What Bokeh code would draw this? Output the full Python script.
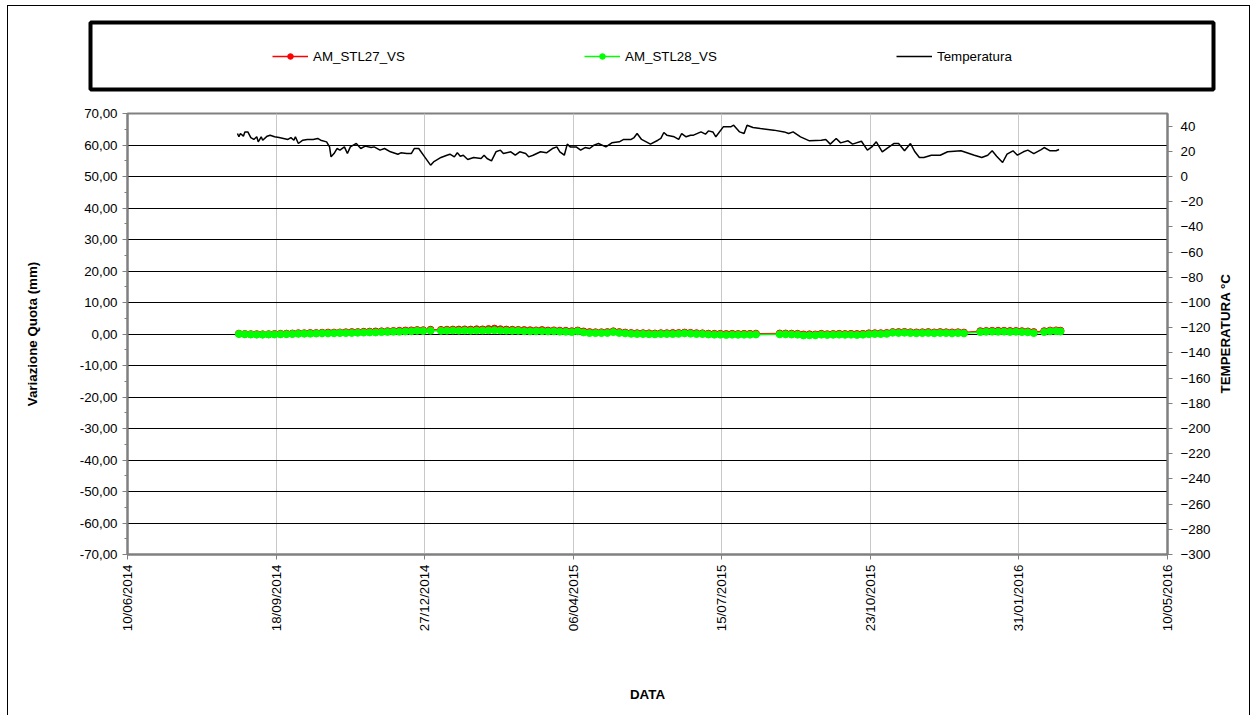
import math
import pandas as pd
from bokeh.plotting import figure
from bokeh.layouts import column, row
from bokeh.models import (Range1d, LinearAxis, FixedTicker, DatetimeTickFormatter,
                          CustomJSTickFormatter, ColumnDataSource, Legend, LegendItem, Label)
from bokeh.embed import file_html
from bokeh.resources import INLINE

# ---------------- data ----------------
temp_dates = [
    "2014-08-23", "2014-08-24", "2014-08-25", "2014-08-27", "2014-08-28", "2014-08-30",
    "2014-09-01", "2014-09-03", "2014-09-05", "2014-09-06", "2014-09-08", "2014-09-09",
    "2014-09-12", "2014-09-14", "2014-09-17", "2014-09-20", "2014-09-23", "2014-09-26",
    "2014-09-28", "2014-09-30", "2014-10-01", "2014-10-03", "2014-10-06", "2014-10-09",
    "2014-10-13", "2014-10-16", "2014-10-18", "2014-10-22", "2014-10-24", "2014-10-25",
    "2014-10-27", "2014-10-29", "2014-10-31", "2014-11-03", "2014-11-05", "2014-11-07",
    "2014-11-09", "2014-11-11", "2014-11-14", "2014-11-17", "2014-11-21", "2014-11-23",
    "2014-11-27", "2014-11-30", "2014-12-04", "2014-12-09", "2014-12-11", "2014-12-15",
    "2014-12-18", "2014-12-20", "2014-12-23", "2014-12-27", "2014-12-31", "2015-01-02",
    "2015-01-07", "2015-01-11", "2015-01-13", "2015-01-16", "2015-01-18", "2015-01-20",
    "2015-01-22", "2015-01-25", "2015-01-29", "2015-02-03", "2015-02-05", "2015-02-07",
    "2015-02-10", "2015-02-13", "2015-02-16", "2015-02-18", "2015-02-23", "2015-02-26",
    "2015-03-01", "2015-03-05", "2015-03-07", "2015-03-10", "2015-03-15", "2015-03-19",
    "2015-03-23", "2015-03-26", "2015-03-28", "2015-03-31", "2015-04-02", "2015-04-04",
    "2015-04-08", "2015-04-11", "2015-04-14", "2015-04-17", "2015-04-20", "2015-04-23",
    "2015-04-28", "2015-05-02", "2015-05-07", "2015-05-10", "2015-05-15", "2015-05-17",
    "2015-05-19", "2015-05-22", "2015-05-28", "2015-06-02", "2015-06-04", "2015-06-06",
    "2015-06-08", "2015-06-13", "2015-06-16", "2015-06-18", "2015-06-21", "2015-06-24",
    "2015-06-26", "2015-07-01", "2015-07-04", "2015-07-06", "2015-07-09", "2015-07-11",
    "2015-07-16", "2015-07-21", "2015-07-23", "2015-07-27", "2015-07-30", "2015-08-01",
    "2015-08-05", "2015-08-10", "2015-08-19", "2015-08-26", "2015-08-29", "2015-09-01",
    "2015-09-06", "2015-09-12", "2015-09-20", "2015-09-23", "2015-09-26", "2015-09-30",
    "2015-10-03", "2015-10-08", "2015-10-11", "2015-10-17", "2015-10-21", "2015-10-24",
    "2015-10-27", "2015-10-31", "2015-11-03", "2015-11-08", "2015-11-11", "2015-11-15",
    "2015-11-19", "2015-11-22", "2015-11-25", "2015-11-28", "2015-12-03", "2015-12-09",
    "2015-12-14", "2015-12-23", "2016-01-01", "2016-01-06", "2016-01-10", "2016-01-13",
    "2016-01-16", "2016-01-20", "2016-01-23", "2016-01-27", "2016-01-30", "2016-02-03",
    "2016-02-06", "2016-02-10", "2016-02-15", "2016-02-17", "2016-02-21", "2016-02-25",
    "2016-02-27",
]
temperatura = [
    34.1, 31.5, 34.1, 32.0, 35.4, 35.4,
    30.9, 29.4, 31.5, 27.5, 31.5, 28.8,
    32.0, 32.8, 31.5, 30.9, 30.2, 29.4,
    30.9, 28.8, 31.5, 26.2, 28.8, 29.4,
    29.4, 30.2, 28.8, 27.5, 23.5, 15.6,
    18.2, 22.2, 20.9, 23.5, 18.2, 23.5,
    24.9, 26.2, 22.2, 24.1, 23.0, 23.5,
    20.9, 22.2, 19.6, 17.7, 18.8, 18.2,
    18.2, 22.2, 22.2, 15.6, 9.0, 11.6,
    15.1, 16.9, 17.7, 15.6, 18.8, 16.1,
    16.9, 13.5, 15.1, 14.3, 16.9, 14.3,
    12.4, 19.6, 20.9, 18.2, 19.6, 16.9,
    19.6, 18.2, 15.6, 16.9, 19.6, 18.8,
    22.2, 23.5, 19.6, 16.9, 25.7, 23.5,
    23.5, 20.9, 23.0, 22.2, 24.9, 26.2,
    23.5, 26.7, 27.5, 29.4, 29.4, 30.9,
    34.1, 29.4, 25.7, 28.8, 30.2, 34.9,
    32.8, 31.5, 29.4, 34.1, 31.5, 32.8,
    32.8, 35.4, 33.6, 36.2, 35.4, 31.5,
    39.4, 39.4, 40.7, 35.4, 34.1, 40.7,
    38.9, 38.1, 36.8, 35.4, 34.1, 35.4,
    31.5, 28.3, 28.8, 29.4, 25.7, 30.2,
    26.7, 28.3, 25.7, 28.0, 20.9, 23.5,
    27.5, 19.6, 22.2, 26.2, 26.2, 20.4,
    26.2, 19.6, 15.1, 15.1, 16.9, 16.9,
    19.6, 20.4, 16.9, 15.1, 16.9, 20.4,
    16.1, 11.1, 17.7, 20.4, 16.9, 19.6,
    20.9, 18.2, 21.4, 23.0, 20.4, 20.4,
    21.4,
]

survey_dates = [
    "2014-08-24", "2014-08-28", "2014-09-01", "2014-09-05", "2014-09-09", "2014-09-13",
    "2014-09-17", "2014-09-21", "2014-09-25", "2014-09-29", "2014-10-03", "2014-10-07",
    "2014-10-11", "2014-10-15", "2014-10-19", "2014-10-23", "2014-10-27", "2014-10-31",
    "2014-11-04", "2014-11-08", "2014-11-12", "2014-11-16", "2014-11-20", "2014-11-24",
    "2014-11-28", "2014-12-02", "2014-12-06", "2014-12-10", "2014-12-14", "2014-12-18",
    "2014-12-22", "2014-12-26", "2014-12-31", "2015-01-07", "2015-01-11", "2015-01-15",
    "2015-01-19", "2015-01-23", "2015-01-27", "2015-01-31", "2015-02-04", "2015-02-08",
    "2015-02-12", "2015-02-16", "2015-02-20", "2015-02-24", "2015-02-28", "2015-03-04",
    "2015-03-08", "2015-03-12", "2015-03-16", "2015-03-20", "2015-03-24", "2015-03-28",
    "2015-04-01", "2015-04-05", "2015-04-09", "2015-04-13", "2015-04-17", "2015-04-21",
    "2015-04-25", "2015-04-29", "2015-05-03", "2015-05-07", "2015-05-11", "2015-05-15",
    "2015-05-19", "2015-05-23", "2015-05-27", "2015-05-31", "2015-06-04", "2015-06-08",
    "2015-06-12", "2015-06-16", "2015-06-20", "2015-06-24", "2015-06-28", "2015-07-02",
    "2015-07-06", "2015-07-10", "2015-07-14", "2015-07-18", "2015-07-22", "2015-07-26",
    "2015-07-30", "2015-08-03", "2015-08-07", "2015-08-23", "2015-08-27", "2015-08-31",
    "2015-09-04", "2015-09-08", "2015-09-12", "2015-09-16", "2015-09-20", "2015-09-24",
    "2015-09-28", "2015-10-02", "2015-10-06", "2015-10-10", "2015-10-14", "2015-10-18",
    "2015-10-22", "2015-10-26", "2015-10-30", "2015-11-03", "2015-11-07", "2015-11-11",
    "2015-11-15", "2015-11-19", "2015-11-23", "2015-11-27", "2015-12-01", "2015-12-05",
    "2015-12-09", "2015-12-13", "2015-12-17", "2015-12-21", "2015-12-25", "2016-01-05",
    "2016-01-09", "2016-01-13", "2016-01-17", "2016-01-21", "2016-01-25", "2016-01-29",
    "2016-02-02", "2016-02-06", "2016-02-10", "2016-02-17", "2016-02-21", "2016-02-25",
    "2016-02-28",
]
am_stl27_vs = [
    0.10, 0.00, -0.05, -0.05, -0.10, -0.05,
    0.00, 0.05, 0.10, 0.15, 0.25, 0.25,
    0.30, 0.30, 0.40, 0.45, 0.45, 0.50,
    0.55, 0.60, 0.60, 0.70, 0.75, 0.80,
    0.85, 0.90, 0.95, 1.00, 1.10, 1.15,
    1.25, 1.20, 1.35, 1.30, 1.35, 1.40,
    1.40, 1.45, 1.40, 1.50, 1.45, 1.55,
    1.70, 1.50, 1.40, 1.35, 1.30, 1.25,
    1.20, 1.15, 1.25, 1.10, 1.15, 1.05,
    1.00, 0.90, 1.10, 0.80, 0.60, 0.55,
    0.55, 0.60, 0.85, 0.60, 0.45, 0.30,
    0.25, 0.25, 0.20, 0.15, 0.25, 0.25,
    0.30, 0.30, 0.45, 0.35, 0.25, 0.20,
    0.10, 0.05, 0.05, 0.00, 0.05, 0.00,
    0.05, 0.05, 0.10, 0.15, 0.15, 0.10,
    0.05, -0.15, -0.10, -0.15, 0.05, -0.05,
    0.00, 0.05, 0.00, 0.05, 0.00, 0.05,
    0.20, 0.25, 0.25, 0.30, 0.60, 0.60,
    0.65, 0.55, 0.50, 0.55, 0.60, 0.50,
    0.60, 0.55, 0.50, 0.55, 0.45, 0.90,
    0.95, 1.00, 1.00, 1.00, 0.95, 0.95,
    0.90, 0.80, 0.60, 0.90, 1.10, 1.15,
    1.05,
]
am_stl28_vs = [
    0.00, -0.10, -0.15, -0.20, -0.20, -0.15,
    -0.15, -0.10, -0.05, 0.00, 0.05, 0.10,
    0.10, 0.15, 0.20, 0.20, 0.25, 0.30,
    0.30, 0.35, 0.40, 0.45, 0.50, 0.50,
    0.60, 0.65, 0.70, 0.70, 0.80, 0.85,
    1.00, 0.95, 1.05, 1.00, 1.05, 1.10,
    1.05, 1.10, 1.05, 1.10, 1.10, 1.15,
    1.20, 1.10, 1.05, 1.00, 1.00, 0.90,
    0.85, 0.85, 0.90, 0.80, 0.85, 0.75,
    0.70, 0.60, 0.85, 0.50, 0.30, 0.30,
    0.30, 0.35, 0.60, 0.35, 0.20, 0.05,
    0.00, 0.00, -0.05, -0.10, 0.00, 0.00,
    0.00, 0.05, 0.20, 0.10, 0.00, 0.00,
    -0.15, -0.20, -0.20, -0.30, -0.20, -0.25,
    -0.20, -0.20, -0.15, -0.10, -0.10, -0.15,
    -0.20, -0.45, -0.40, -0.40, -0.20, -0.30,
    -0.25, -0.20, -0.25, -0.20, -0.30, -0.20,
    -0.05, 0.00, 0.00, 0.05, 0.40, 0.35,
    0.40, 0.30, 0.25, 0.30, 0.35, 0.25,
    0.35, 0.30, 0.20, 0.30, 0.20, 0.60,
    0.70, 0.75, 0.70, 0.75, 0.65, 0.70,
    0.60, 0.55, 0.30, 0.60, 0.85, 0.90,
    0.80,
]

x_tick_dates = ["2014-06-10", "2014-09-18", "2014-12-27", "2015-04-06",
                "2015-07-15", "2015-10-23", "2016-01-31", "2016-05-10"]
series_names = ["AM_STL27_VS", "AM_STL28_VS", "Temperatura"]

FONT = "Liberation Sans"
RED = "#ff0000"
GREEN = "#00ff00"

temp_src = ColumnDataSource(dict(x=pd.to_datetime(temp_dates), y=temperatura))
src27 = ColumnDataSource(dict(x=pd.to_datetime(survey_dates), y=am_stl27_vs))
src28 = ColumnDataSource(dict(x=pd.to_datetime(survey_dates), y=am_stl28_vs))

# ---------------- legend strip ----------------
lf = figure(width=1241, height=92, output_backend="svg", toolbar_location=None,
            x_range=Range1d(0, 1), y_range=Range1d(0, 1),
            x_axis_location=None, y_axis_location=None,
            min_border_left=82, min_border_right=36, min_border_top=16, min_border_bottom=9)
lf.grid.visible = False
lf.outline_line_color = "black"
lf.outline_line_width = 4
lf.background_fill_color = "white"

# legend proxies: same data, but outside this strip's ranges, so only the legend shows
l27 = lf.line("x", "y", source=src27, line_color=RED, line_width=1.5)
s27 = lf.scatter("x", "y", source=src27, marker="circle", size=7, fill_color=RED, line_color=RED)
l28 = lf.line("x", "y", source=src28, line_color=GREEN, line_width=1.5)
s28 = lf.scatter("x", "y", source=src28, marker="circle", size=7, fill_color=GREEN, line_color=GREEN)
lt = lf.line("x", "y", source=temp_src, line_color="black", line_width=1.5)

legend = Legend(items=[LegendItem(label=series_names[0], renderers=[l27, s27]),
                       LegendItem(label=series_names[1], renderers=[l28, s28]),
                       LegendItem(label=series_names[2], renderers=[lt])],
                orientation="horizontal", location=(182, 25),
                glyph_width=36, glyph_height=14, label_standoff=5,
                label_width=95, label_height=16, spacing=176,
                padding=0, margin=0, border_line_alpha=0, background_fill_alpha=0,
                label_text_font=FONT, label_text_font_size="10pt", label_text_color="black")
lf.add_layout(legend)

# ---------------- main chart ----------------
p = figure(width=1241, height=617, output_backend="svg", toolbar_location=None,
           x_axis_type="datetime",
           x_range=Range1d(pd.Timestamp("2014-06-10"), pd.Timestamp("2016-05-10")),
           y_range=Range1d(-70, 70),
           min_border_left=119, min_border_right=82, min_border_top=15, min_border_bottom=161)
p.extra_y_ranges = {"temp": Range1d(-300, 50)}
p.outline_line_color = "#808080"
p.outline_line_width = 2

# x axis
xax = p.xaxis[0]
xax.ticker = FixedTicker(ticks=[pd.Timestamp(d).value / 1e6 for d in x_tick_dates])
fmt = "%d/%m/%Y"
xax.formatter = DatetimeTickFormatter(microseconds=fmt, milliseconds=fmt, seconds=fmt,
                                      minsec=fmt, minutes=fmt, hourmin=fmt, hours=fmt,
                                      days=fmt, months=fmt, years=fmt)
xax.major_label_orientation = math.pi / 2
xax.axis_label = "DATA"
xax.axis_label_standoff = 53

# left axis
yax = p.yaxis[0]
yax.ticker = FixedTicker(ticks=list(range(-70, 71, 10)), minor_ticks=list(range(-65, 70, 10)))
yax.formatter = CustomJSTickFormatter(code="return tick.toFixed(2).replace('.', ',');")
yax.axis_label = "Variazione Quota (mm)"
yax.axis_label_standoff = 37

# right axis; its title is a rotated label in the right panel, reading upwards
rax = LinearAxis(y_range_name="temp", ticker=FixedTicker(ticks=list(range(-300, 41, 20))))
p.add_layout(rax, "right")

for ax in [xax, yax, rax]:
    ax.axis_line_color = "#808080"
    ax.axis_line_width = 2
    ax.major_tick_line_color = "#808080"
    ax.minor_tick_line_color = "#808080"
    ax.major_tick_in = 0
    ax.major_tick_out = 5
    ax.minor_tick_in = 0
    ax.minor_tick_out = 3
    ax.major_label_text_font = FONT
    ax.major_label_text_font_size = "10pt"
    ax.major_label_text_color = "black"
    ax.axis_label_text_font = FONT
    ax.axis_label_text_font_size = "10pt"
    ax.axis_label_text_font_style = "bold"
    ax.axis_label_text_color = "black"
rax.major_label_standoff = 8

right_title = Label(x=12, y=221, x_units="screen", y_units="screen",
                    text="TEMPERATURA °C", angle=math.pi / 2,
                    text_align="center", text_baseline="middle",
                    text_font=FONT, text_font_size="10pt", text_font_style="bold",
                    text_color="black")
p.add_layout(right_title, "right")

p.xgrid.grid_line_color = "#c8c8c8"
p.xgrid.grid_line_width = 1
p.ygrid.grid_line_color = "black"
p.ygrid.grid_line_width = 1

p.line("x", "y", source=temp_src, y_range_name="temp", line_color="black", line_width=1.5)
p.line("x", "y", source=src27, line_color=RED, line_width=1.5)
p.scatter("x", "y", source=src27, marker="circle", size=7, fill_color=RED, line_color=RED)
p.line("x", "y", source=src28, line_color=GREEN, line_width=1.5)
p.scatter("x", "y", source=src28, marker="circle", size=7, fill_color=GREEN, line_color=GREEN)

layout = column(row(lf), p, spacing=0,
                styles={"margin-left": "7px", "margin-top": "5px",
                        "border-left": "1px solid black", "border-top": "1px solid black",
                        "border-right": "1px solid black"})

open("out.html", "w").write(file_html(layout, INLINE))
